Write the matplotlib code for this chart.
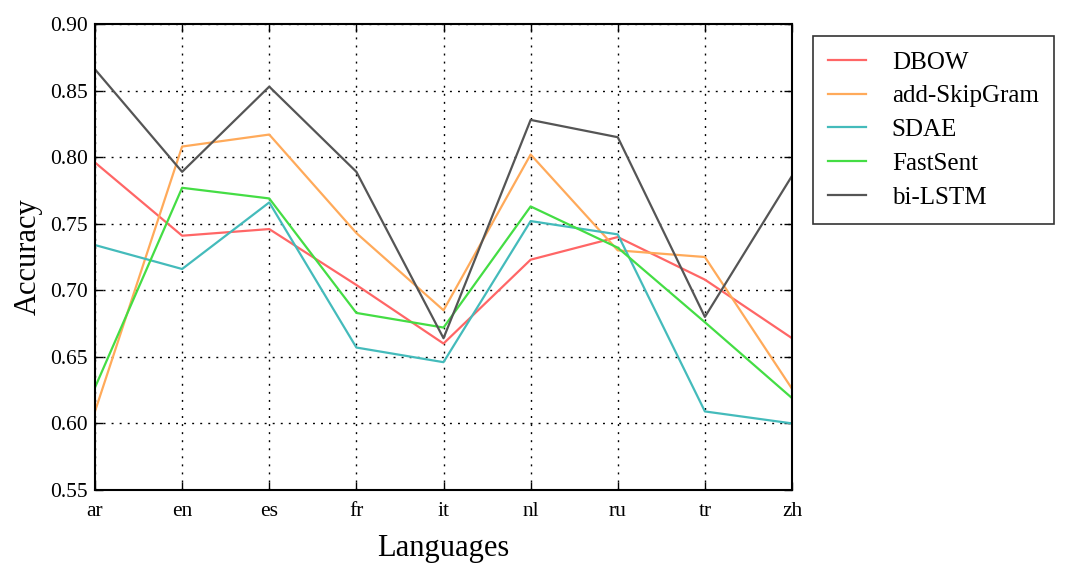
import matplotlib
matplotlib.use("Agg")
import matplotlib.pyplot as plt

languages = ["ar", "en", "es", "fr", "it", "nl", "ru", "tr", "zh"]
dbow = [0.796, 0.741, 0.746, 0.704, 0.660, 0.723, 0.740, 0.708, 0.664]
skipgram = [0.609, 0.808, 0.817, 0.743, 0.685, 0.802, 0.730, 0.725, 0.626]
sdae = [0.734, 0.716, 0.766, 0.657, 0.646, 0.752, 0.742, 0.609, 0.600]
fastsent = [0.627, 0.777, 0.769, 0.683, 0.672, 0.763, 0.732, 0.676, 0.619]
bilstm = [0.866, 0.789, 0.853, 0.789, 0.664, 0.828, 0.815, 0.680, 0.786]
yticks = [0.55, 0.60, 0.65, 0.70, 0.75, 0.80, 0.85, 0.90]

series = [
    ("DBOW", dbow, "#ff6666"),
    ("add-SkipGram", skipgram, "#ffaa5a"),
    ("SDAE", sdae, "#44bbbb"),
    ("FastSent", fastsent, "#44dd44"),
    ("bi-LSTM", bilstm, "#555555"),
]

plt.rcParams["font.family"] = ["Liberation Serif", "DejaVu Serif"]

fig = plt.figure(figsize=(10.66, 5.73), dpi=100)
ax = fig.add_axes([0.0891, 0.1449, 0.6539, 0.8131])

x = list(range(len(languages)))
for name, vals, col in series:
    ax.plot(x, vals, color=col, lw=1.6, label=name)

ax.set_xlim(0, len(languages) - 1)
ax.set_ylim(0.55, 0.90)
ax.set_xticks(x)
ax.set_xticklabels(languages)
ax.set_yticks(yticks)
ax.set_yticklabels(["%.2f" % v for v in yticks])
ax.tick_params(direction="in", top=True, right=True, labelsize=15.5, length=6, width=1)
ax.tick_params(axis="x", pad=9)
ax.tick_params(axis="y", pad=5)
ax.grid(True, color="black", linestyle=(0, (1.4, 4.4)), linewidth=1)
for s in ax.spines.values():
    s.set_linewidth(1.5)
ax.set_xlabel("Languages", fontsize=22, labelpad=9)
ax.set_ylabel("Accuracy", fontsize=22, labelpad=5)

leg = ax.legend(loc="upper left", bbox_to_anchor=(1.0301, 0.974), borderaxespad=0,
                fontsize=18, frameon=True, fancybox=False, edgecolor="black",
                handlelength=1.5, handletextpad=1.05, borderpad=0.6, labelspacing=0.45)
leg.get_frame().set_linewidth(1.2)

fig.savefig("out.png", dpi=100)
